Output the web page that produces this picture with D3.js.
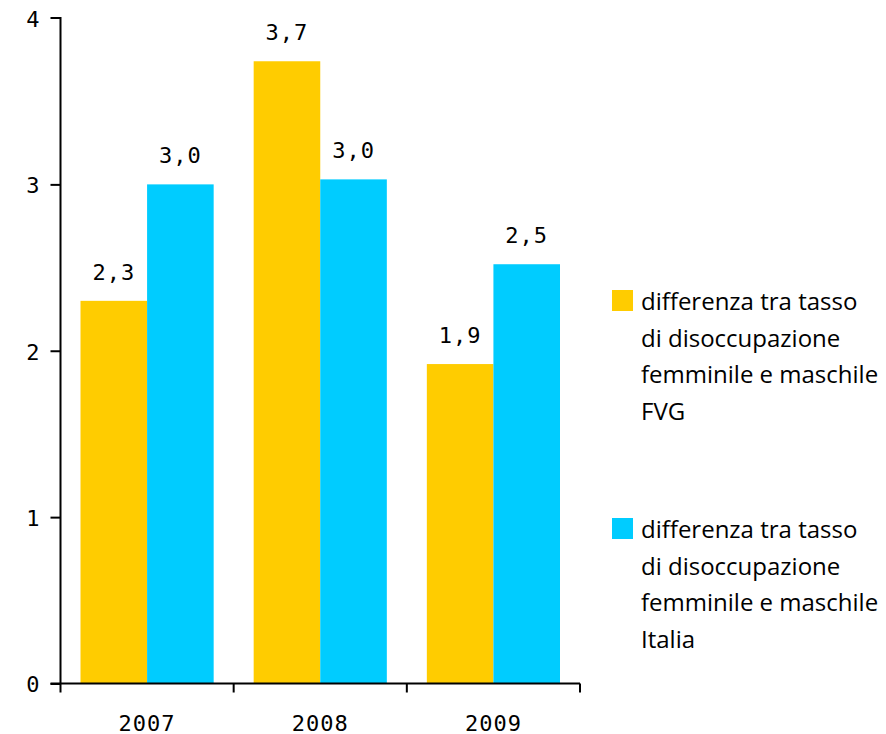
<!DOCTYPE html>
<html><head><meta charset="utf-8">
<script src="https://cdn.jsdelivr.net/npm/d3@7"></script>
<style>body{margin:0;background:#fff}</style>
</head><body>
<svg id="c" width="886" height="734"></svg>
<script>
const categories = ["2007", "2008", "2009"];
const seriesNames = ["differenza tra tasso di disoccupazione femminile e maschile FVG", "differenza tra tasso di disoccupazione femminile e maschile Italia"];
const fvg = [2.3, 3.74, 1.92];
const italia = [3.0, 3.03, 2.52];
const fvgLabels = ["2,3", "3,7", "1,9"];
const italiaLabels = ["3,0", "3,0", "2,5"];
const yTicks = [0, 1, 2, 3, 4];
const legendLines = [
  ["differenza tra tasso", "di disoccupazione", "femminile e maschile", "FVG"],
  ["differenza tra tasso", "di disoccupazione", "femminile e maschile", "Italia"]
];
const colors = ["#FFCC00", "#00CCFF"];

const svg = d3.select("#c");
const numFont = "'DejaVu Sans Mono', monospace";
const legFont = "'Open Sans', sans-serif";
const x0 = 60.5, x1 = 580, yTop = 18, yBot = 683.5;

const x = d3.scaleBand().domain(categories).range([x0, x1]).paddingInner(0).paddingOuter(0);
const y = d3.scaleLinear().domain([0, 4]).range([yBot, yTop]);
const barW = (x.bandwidth() - 40) / 2;

const series = [fvg, italia];
const labels = [fvgLabels, italiaLabels];
series.forEach((vals, s) => {
  svg.append("g").selectAll("rect").data(vals).join("rect")
    .attr("x", (d, i) => x(categories[i]) + 20 + s * barW)
    .attr("y", d => y(d))
    .attr("width", barW)
    .attr("height", d => y(0) - y(d))
    .attr("fill", colors[s]);
  svg.append("g").selectAll("text").data(vals).join("text")
    .attr("x", (d, i) => x(categories[i]) + 20 + s * barW + barW / 2)
    .attr("y", d => y(d) - 21)
    .attr("text-anchor", "middle")
    .attr("font-family", numFont)
    .attr("font-size", 22)
    .attr("letter-spacing", 1)
    .attr("fill", "#000")
    .text((d, i) => labels[s][i]);
});

// Y axis
const yAxis = d3.axisLeft(y).tickValues(yTicks).tickSize(10).tickFormat(d => d);
const gy = svg.append("g").attr("transform", `translate(${x0},0)`).call(yAxis);
gy.select(".domain").attr("stroke", "#000").attr("stroke-width", 2).attr("d", `M-10,${yTop}H0V${yBot}`);
gy.selectAll(".tick line").attr("stroke", "#000").attr("stroke-width", 2);
gy.selectAll(".tick text").attr("font-family", numFont).attr("font-size", 22).attr("fill", "#000").attr("x", -21).attr("dy", "0.38em");
gy.selectAll(".tick").filter(d => d === 4).select("line").remove();

// X axis
const xAxis = d3.axisBottom(x).tickSize(0).tickFormat(d => d);
const gx = svg.append("g").attr("transform", `translate(0,${yBot})`).call(xAxis);
gx.select(".domain").attr("stroke", "#000").attr("stroke-width", 2).attr("d", `M${x0 - 10},0H${x1}`);
gx.selectAll(".tick text").attr("font-family", numFont).attr("font-size", 22).attr("letter-spacing", 1).attr("fill", "#000").attr("y", 47).attr("dy", 0);
const bounds = [x0].concat(categories.map(c => x(c) + x.bandwidth()));
gx.selectAll("line.sep").data(bounds).join("line").attr("class", "sep")
  .attr("x1", d => d).attr("x2", d => d).attr("y1", 0).attr("y2", 9)
  .attr("stroke", "#000").attr("stroke-width", 2);

// Legend
const legY = [300, 528];
legendLines.forEach((lines, s) => {
  svg.append("rect").attr("x", 612).attr("y", legY[s] - 10).attr("width", 21).attr("height", 21).attr("fill", colors[s]);
  const t = svg.append("text").attr("font-family", legFont).attr("font-size", 24).attr("fill", "#000");
  lines.forEach((ln, i) => {
    t.append("tspan").attr("x", 641).attr("y", legY[s] + 10 + i * 36.5).text(ln);
  });
});
</script>
</body></html>
